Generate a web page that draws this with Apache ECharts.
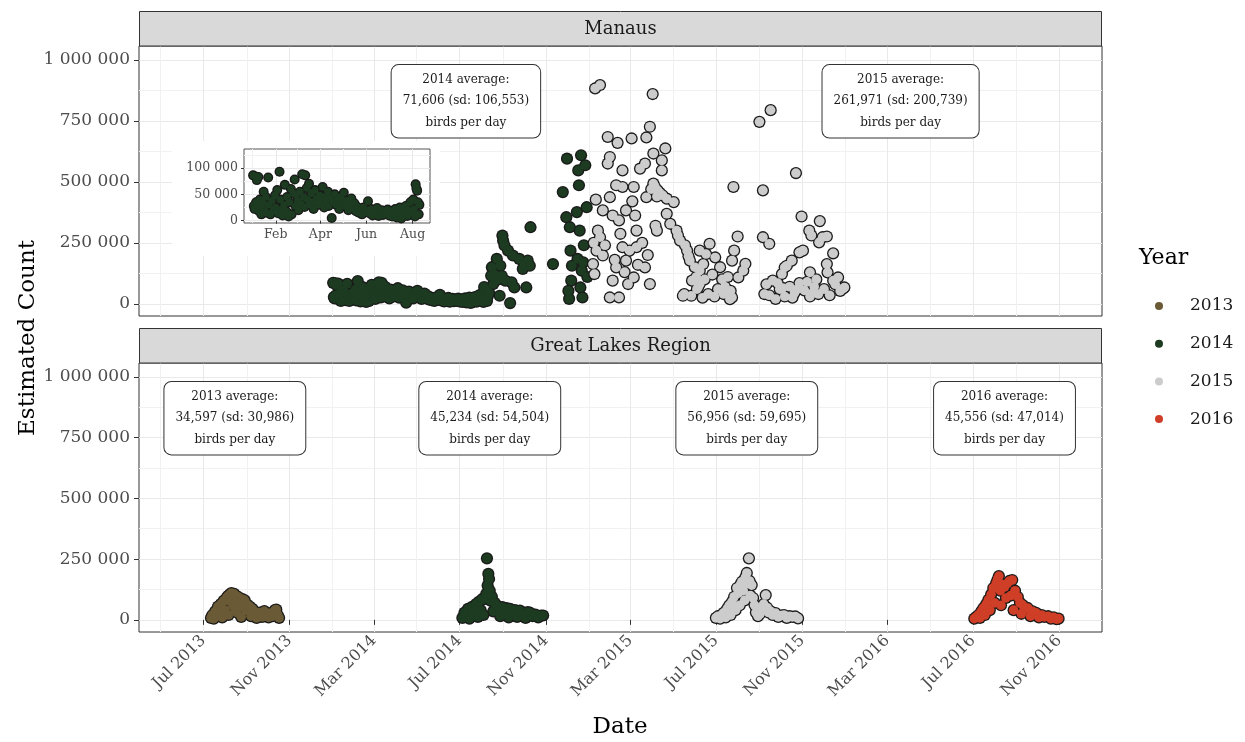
<!DOCTYPE html>
<html><head><meta charset="utf-8">
<script src="https://cdn.jsdelivr.net/npm/echarts@6/dist/echarts.min.js"></script>
<style>html,body{margin:0;padding:0;background:#fff}#c{width:1245px;height:742px}</style>
</head><body><div id="c"></div>
<script>
// ---------------- DATA ----------------
const years = ['2013', '2014', '2015', '2016'];
const panels = ['Manaus', 'Great Lakes Region'];

const xTickDates = ['2013-07-01','2013-11-01','2014-03-01','2014-07-01','2014-11-01','2015-03-01','2015-07-01','2015-11-01','2016-03-01','2016-07-01','2016-11-01'];
const xTickLabels = ['Jul 2013','Nov 2013','Mar 2014','Jul 2014','Nov 2014','Mar 2015','Jul 2015','Nov 2015','Mar 2016','Jul 2016','Nov 2016'];
const xMinorDates = ['2013-05-01','2013-09-01','2014-01-01','2014-05-01','2014-09-01','2015-01-01','2015-05-01','2015-09-01','2016-01-01','2016-05-01','2016-09-01'];
const yTickValues = [0, 250000, 500000, 750000, 1000000];
const yTickLabels = ['0', '250 000', '500 000', '750 000', '1 000 000'];
const yMinorValues = [125000, 375000, 625000, 875000];

const insetXTickDates = ['2014-02-01','2014-04-01','2014-06-01','2014-08-01'];
const insetXTickLabels = ['Feb','Apr','Jun','Aug'];
const insetXMinorDates = ['2014-01-01','2014-03-01','2014-05-01','2014-07-01'];
const insetYTickValues = [0, 50000, 100000];
const insetYTickLabels = ['0', '50 000', '100 000'];
const insetYMinorValues = [25000, 75000, 125000];
const insetEndDate = '2014-08-10';

// Manaus, season 2014
const manaus2014 = [
['2014-01-02',86000],['2014-01-03',28000],['2014-01-04',22000],['2014-01-05',84000],['2014-01-06',35000],['2014-01-07',77000],
['2014-01-08',30000],['2014-01-09',83000],['2014-01-10',18000],['2014-01-11',40000],['2014-01-12',25000],['2014-01-13',12000],
['2014-01-15',33000],['2014-01-16',55000],['2014-01-17',20000],['2014-01-19',45000],['2014-01-20',15000],['2014-01-22',82000],
['2014-01-23',30000],['2014-01-25',12000],['2014-01-27',38000],['2014-01-29',20000],['2014-01-31',48000],
['2014-02-01',25000],['2014-02-03',58000],['2014-02-04',14000],['2014-02-06',93000],['2014-02-07',40000],['2014-02-09',22000],
['2014-02-10',10000],['2014-02-12',30000],['2014-02-13',68000],['2014-02-15',18000],['2014-02-16',45000],['2014-02-18',8000],
['2014-02-19',35000],['2014-02-21',60000],['2014-02-22',12000],['2014-02-24',52000],['2014-02-26',78000],['2014-02-27',28000],
['2014-02-28',49000],
['2014-03-02',38000],['2014-03-03',20000],['2014-03-05',55000],['2014-03-06',32000],['2014-03-08',88000],['2014-03-10',45000],
['2014-03-11',26000],['2014-03-12',86000],['2014-03-14',62000],['2014-03-15',40000],['2014-03-17',70000],['2014-03-18',30000],
['2014-03-20',52000],['2014-03-22',36000],['2014-03-23',22000],['2014-03-25',58000],['2014-03-27',42000],['2014-03-29',30000],
['2014-03-31',48000],
['2014-04-02',35000],['2014-04-04',64000],['2014-04-06',25000],['2014-04-07',45000],['2014-04-09',38000],['2014-04-11',55000],
['2014-04-12',28000],['2014-04-14',42000],['2014-04-16',5000],['2014-04-18',35000],['2014-04-20',50000],['2014-04-22',30000],
['2014-04-24',40000],['2014-04-26',22000],['2014-04-28',45000],['2014-04-30',32000],
['2014-05-02',53000],['2014-05-04',28000],['2014-05-06',38000],['2014-05-08',20000],['2014-05-10',30000],['2014-05-12',42000],
['2014-05-14',24000],['2014-05-16',33000],['2014-05-18',18000],['2014-05-20',26000],['2014-05-22',15000],['2014-05-24',22000],
['2014-05-26',12000],['2014-05-28',25000],['2014-05-30',16000],
['2014-06-01',20000],['2014-06-03',37000],['2014-06-05',14000],['2014-06-07',22000],['2014-06-09',10000],['2014-06-11',18000],
['2014-06-13',12000],['2014-06-15',24000],['2014-06-17',9000],['2014-06-19',16000],['2014-06-21',20000],['2014-06-23',11000],
['2014-06-25',17000],['2014-06-27',13000],['2014-06-29',21000],
['2014-07-01',10000],['2014-07-03',18000],['2014-07-05',8000],['2014-07-07',15000],['2014-07-09',22000],['2014-07-11',6000],
['2014-07-13',14000],['2014-07-15',25000],['2014-07-17',4000],['2014-07-19',18000],['2014-07-21',12000],['2014-07-23',28000],
['2014-07-25',9000],['2014-07-27',20000],['2014-07-29',35000],['2014-07-31',15000],
['2014-08-02',40000],['2014-08-03',22000],['2014-08-04',8000],['2014-08-05',69000],['2014-08-06',61000],['2014-08-07',57000],
['2014-08-08',35000],['2014-08-09',12000],['2014-08-10',30000],
['2014-08-12',45000],['2014-08-15',115000],['2014-08-16',150000],['2014-08-18',81000],['2014-08-20',120000],['2014-08-23',184000],
['2014-08-25',100000],['2014-08-27',33000],['2014-08-28',156000],['2014-08-30',115000],['2014-08-31',280000],['2014-09-01',259000],
['2014-09-03',239000],['2014-09-04',95000],['2014-09-08',218000],['2014-09-11',3000],['2014-09-13',88000],['2014-09-15',198000],
['2014-09-17',67000],['2014-09-24',184000],['2014-09-29',143000],['2014-10-01',163000],['2014-10-04',67000],['2014-10-06',177000],
['2014-10-09',156000],['2014-10-10',314000],['2014-11-11',163000],['2014-11-25',458000],['2014-11-30',355000],['2014-12-01',595000],
['2014-12-03',53000],['2014-12-04',20000],['2014-12-05',314000],['2014-12-06',218000],['2014-12-07',95000],['2014-12-08',156000],
['2014-12-15',376000],['2014-12-16',184000],['2014-12-17',547000],['2014-12-18',486000],['2014-12-19',300000],['2014-12-20',67000],
['2014-12-21',609000],['2014-12-22',136000],['2014-12-23',26000],['2014-12-24',170000],['2014-12-25',240000],['2014-12-27',568000],
['2014-12-29',396000],['2014-12-30',110000]
];

// Manaus, season 2015
const manaus2015 = [
['2015-01-07',163000],['2015-01-08',250000],['2015-01-09',122000],['2015-01-10',883000],['2015-01-11',427000],['2015-01-12',218000],
['2015-01-14',300000],['2015-01-17',897000],['2015-01-17',273000],['2015-01-21',383000],['2015-01-21',198000],['2015-01-24',240000],
['2015-01-28',684000],['2015-01-28',575000],['2015-01-31',602000],['2015-01-31',437000],['2015-01-31',26000],['2015-02-04',362000],
['2015-02-04',95000],['2015-02-07',180000],['2015-02-09',486000],['2015-02-09',149000],['2015-02-11',660000],['2015-02-13',342000],
['2015-02-13',26000],['2015-02-15',287000],['2015-02-18',547000],['2015-02-18',479000],['2015-02-18',232000],['2015-02-21',130000],
['2015-02-23',383000],['2015-02-23',177000],['2015-02-26',81000],['2015-02-28',218000],['2015-03-03',678000],['2015-03-04',420000],
['2015-03-06',479000],['2015-03-06',108000],['2015-03-08',362000],['2015-03-10',300000],['2015-03-10',232000],['2015-03-12',160000],
['2015-03-15',554000],['2015-03-18',250000],['2015-03-22',575000],['2015-03-22',149000],['2015-03-24',682000],['2015-03-24',437000],
['2015-03-26',200000],['2015-03-29',726000],['2015-03-29',81000],['2015-03-31',470000],['2015-04-02',860000],['2015-04-03',616000],
['2015-04-03',493000],['2015-04-05',480000],['2015-04-06',320000],['2015-04-08',440000],['2015-04-08',300000],['2015-04-09',465000],
['2015-04-12',455000],['2015-04-15',588000],['2015-04-15',547000],['2015-04-16',445000],['2015-04-20',637000],['2015-04-22',431000],
['2015-04-22',369000],['2015-04-27',328000],['2015-05-02',417000],['2015-05-06',300000],['2015-05-08',280000],['2015-05-11',259000],
['2015-05-15',33000],['2015-05-17',40000],['2015-05-18',240000],['2015-05-21',218000],['2015-05-23',195000],['2015-05-25',177000],
['2015-05-27',33000],['2015-05-28',95000],['2015-06-01',150000],['2015-06-03',110000],['2015-06-04',60000],['2015-06-06',70000],
['2015-06-08',136000],['2015-06-08',81000],['2015-06-08',218000],['2015-06-12',25000],['2015-06-13',163000],['2015-06-15',100000],
['2015-06-17',204000],['2015-06-20',40000],['2015-06-22',246000],['2015-06-26',120000],['2015-06-29',30000],['2015-06-30',190000],
['2015-07-04',60000],['2015-07-07',150000],['2015-07-10',100000],['2015-07-12',40000],['2015-07-14',70000],['2015-07-18',110000],
['2015-07-21',19000],['2015-07-22',53000],['2015-07-24',26000],['2015-07-24',177000],['2015-07-26',479000],['2015-07-27',218000],
['2015-08-01',276000],['2015-08-02',108000],['2015-08-09',136000],['2015-08-12',164000],['2015-09-01',746000],['2015-09-06',465000],
['2015-09-06',273000],['2015-09-08',40000],['2015-09-11',80000],['2015-09-15',246000],['2015-09-15',35000],['2015-09-17',794000],
['2015-09-20',95000],['2015-09-24',20000],['2015-09-27',85000],['2015-09-30',60000],['2015-10-03',122000],['2015-10-04',65000],
['2015-10-07',30000],['2015-10-07',149000],['2015-10-10',156000],['2015-10-14',70000],['2015-10-17',177000],['2015-10-18',25000],
['2015-10-21',45000],['2015-10-23',536000],['2015-10-25',60000],['2015-10-28',211000],['2015-10-28',85000],['2015-10-31',358000],
['2015-11-02',218000],['2015-11-04',55000],['2015-11-08',90000],['2015-11-11',300000],['2015-11-12',129000],['2015-11-12',30000],
['2015-11-14',280000],['2015-11-16',45000],['2015-11-18',70000],['2015-11-21',100000],['2015-11-24',40000],['2015-11-25',252000],
['2015-11-26',339000],['2015-11-30',273000],['2015-12-02',60000],['2015-12-06',276000],['2015-12-06',163000],['2015-12-07',129000],
['2015-12-10',35000],['2015-12-15',207000],['2015-12-15',95000],['2015-12-18',80000],['2015-12-22',108000],['2015-12-25',53000],
['2015-12-29',62000],['2015-12-31',67000]
];

// Great Lakes Region
const lakes2013 = [
['2013-07-12',8000],['2013-07-14',20000],['2013-07-16',5000],['2013-07-18',35000],['2013-07-20',15000],['2013-07-22',55000],
['2013-07-24',25000],['2013-07-26',65000],['2013-07-28',10000],['2013-07-30',78000],['2013-08-01',40000],['2013-08-03',90000],
['2013-08-05',98000],['2013-08-06',20000],['2013-08-08',105000],['2013-08-09',75000],['2013-08-10',110000],['2013-08-11',88000],
['2013-08-12',60000],['2013-08-13',82000],['2013-08-14',107000],['2013-08-15',45000],
['2013-08-16',100000],['2013-08-17',70000],['2013-08-18',30000],['2013-08-20',94000],['2013-08-21',55000],['2013-08-22',75000],['2013-08-24',12000],['2013-08-26',85000],
['2013-08-29',80000],['2013-08-31',40000],['2013-09-02',62000],['2013-09-05',55000],['2013-09-07',15000],['2013-09-09',45000],
['2013-09-12',35000],['2013-09-15',8000],['2013-09-17',28000],['2013-09-20',30000],['2013-09-23',12000],['2013-09-26',36000],
['2013-09-29',20000],['2013-10-02',10000],['2013-10-05',28000],['2013-10-08',15000],['2013-10-11',40000],['2013-10-13',42000],
['2013-10-15',20000],['2013-10-17',8000]
];
const lakes2014 = [
['2014-07-05',8000],['2014-07-08',30000],['2014-07-10',15000],['2014-07-13',45000],['2014-07-15',5000],['2014-07-18',52000],
['2014-07-20',25000],['2014-07-23',60000],['2014-07-25',66000],['2014-07-27',12000],['2014-07-29',75000],['2014-07-31',40000],
['2014-08-02',85000],['2014-08-04',20000],['2014-08-06',86000],['2014-08-08',107000],['2014-08-09',253000],['2014-08-10',141000],
['2014-08-11',189000],['2014-08-12',168000],['2014-08-13',120000],['2014-08-14',79000],['2014-08-16',95000],['2014-08-18',35000],
['2014-08-20',70000],['2014-08-23',59000],['2014-08-26',50000],['2014-08-28',15000],['2014-08-31',52000],['2014-09-03',40000],
['2014-09-06',48000],['2014-09-09',10000],['2014-09-11',45000],['2014-09-15',30000],['2014-09-18',40000],['2014-09-21',12000],
['2014-09-25',38000],['2014-09-29',25000],['2014-10-03',8000],['2014-10-06',32000],['2014-10-09',30000],['2014-10-13',15000],
['2014-10-17',22000],['2014-10-21',10000],['2014-10-25',18000],['2014-10-28',18000]
];
const lakes2015 = [
['2015-07-01',8000],['2015-07-04',15000],['2015-07-07',5000],['2015-07-10',22000],['2015-07-12',29000],['2015-07-15',10000],
['2015-07-17',45000],['2015-07-20',60000],['2015-07-22',20000],['2015-07-24',74000],['2015-07-27',95000],['2015-07-29',40000],
['2015-07-31',131000],['2015-08-02',110000],['2015-08-04',60000],['2015-08-05',145000],['2015-08-07',157000],['2015-08-09',120000],
['2015-08-11',80000],['2015-08-12',175000],['2015-08-14',193000],['2015-08-15',150000],['2015-08-17',253000],['2015-08-18',160000],
['2015-08-19',100000],['2015-08-21',143000],['2015-08-23',90000],['2015-08-25',61000],['2015-08-27',30000],['2015-08-30',15000],
['2015-09-02',25000],['2015-09-05',45000],['2015-09-07',65000],['2015-09-10',102000],['2015-09-12',50000],['2015-09-14',30000],
['2015-09-17',35000],['2015-09-20',20000],['2015-09-24',28000],['2015-09-28',12000],['2015-10-02',18000],['2015-10-06',20000],
['2015-10-10',8000],['2015-10-14',15000],['2015-10-18',12000],['2015-10-22',14000],['2015-10-26',6000]
];
const lakes2016 = [
['2016-07-03',5000],['2016-07-06',12000],['2016-07-09',20000],['2016-07-11',8000],['2016-07-13',35000],['2016-07-16',49000],
['2016-07-18',20000],['2016-07-20',65000],['2016-07-23',82000],['2016-07-25',40000],['2016-07-27',105000],['2016-07-30',131000],
['2016-08-01',70000],['2016-08-03',150000],['2016-08-05',165000],['2016-08-07',180000],['2016-08-09',120000],['2016-08-10',60000],
['2016-08-12',145000],['2016-08-15',135000],['2016-08-17',90000],['2016-08-19',150000],['2016-08-22',160000],['2016-08-24',100000],
['2016-08-26',164000],['2016-08-28',40000],['2016-08-30',120000],['2016-09-03',94000],['2016-09-06',70000],['2016-09-08',25000],
['2016-09-10',61000],['2016-09-14',45000],['2016-09-17',49000],['2016-09-21',15000],['2016-09-24',35000],['2016-09-29',29000],
['2016-10-03',10000],['2016-10-07',20000],['2016-10-11',12000],['2016-10-16',15000],['2016-10-20',5000],['2016-10-24',10000],
['2016-10-28',3000],['2016-10-31',5000]
];

// Summary labels (panel, anchor date, anchor count, text lines)
const annotationPanels = ['Manaus','Manaus','Great Lakes Region','Great Lakes Region','Great Lakes Region','Great Lakes Region'];
const annotationDates = ['2014-07-10','2016-03-20','2013-08-15','2014-08-13','2015-08-14','2016-08-15'];
const annotationCounts = [830000, 830000, 830000, 830000, 830000, 830000];
const annotationTexts = [
  ['2014 average:', '71,606 (sd: 106,553)', 'birds per day'],
  ['2015 average:', '261,971 (sd: 200,739)', 'birds per day'],
  ['2013 average:', '34,597 (sd: 30,986)', 'birds per day'],
  ['2014 average:', '45,234 (sd: 54,504)', 'birds per day'],
  ['2015 average:', '56,956 (sd: 59,695)', 'birds per day'],
  ['2016 average:', '45,556 (sd: 47,014)', 'birds per day']
];

// ---------------- STYLE / LAYOUT ----------------
const yearColor = {'2013':'#6b5a36','2014':'#1c3b21','2015':'#cccccc','2016':'#cf3e26'};
const outlineColor = '#1a1a1a';
const FONT = '"DejaVu Serif", serif';
const xRange = ['2013-03-31T12:00:00Z', '2016-12-31T20:00:00Z'];
const yRange = [-50000, 1057000];
const insetXRange = ['2013-12-21', '2014-08-24'];
const insetYRange = [-4400, 136000];

const ts = s => Date.parse(s);
const pts = arr => arr.map(d => [ts(d[0]), d[1]]);
const mapOf = (keys, labels) => { const m = {}; keys.forEach((k, i) => { m[k] = labels[i]; }); return m; };
const xLabelMap = mapOf(xTickDates.map(ts), xTickLabels);
const yLabelMap = mapOf(yTickValues, yTickLabels);
const insetXLabelMap = mapOf(insetXTickDates.map(ts), insetXTickLabels);
const insetYLabelMap = mapOf(insetYTickValues, insetYTickLabels);

const gridLine = '#e9e9e9';
const minorLine = '#f1f1f1';
const labelColor = '#4d4d4d';

function majorX(gridIndex, showLabels) {
  return {
    type: 'value', gridIndex, position: 'bottom', min: ts(xRange[0]), max: ts(xRange[1]),
    axisLine: { show: false },
    axisTick: { show: showLabels, customValues: xTickDates.map(ts), length: 5, lineStyle: { color: '#333' } },
    axisLabel: { show: showLabels, customValues: xTickDates.map(ts), rotate: 45, margin: 6,
      formatter: v => xLabelMap[v] || '', fontFamily: FONT, fontSize: 16, color: labelColor },
    splitLine: { show: true, lineStyle: { color: gridLine, width: 1 } }
  };
}
function minorX(gridIndex) {
  return {
    type: 'value', gridIndex, position: 'top', min: ts(xRange[0]), max: ts(xRange[1]),
    axisLine: { show: false }, axisLabel: { show: false },
    axisTick: { show: false, customValues: xMinorDates.map(ts) },
    splitLine: { show: true, lineStyle: { color: minorLine, width: 1 } }
  };
}
function majorY(gridIndex) {
  return {
    type: 'value', gridIndex, position: 'left', min: yRange[0], max: yRange[1],
    axisLine: { show: false },
    axisTick: { show: true, customValues: yTickValues, length: 5, lineStyle: { color: '#333' } },
    axisLabel: { show: true, customValues: yTickValues, margin: 9,
      formatter: v => yLabelMap[v] || '', fontFamily: FONT, fontSize: 17, color: labelColor },
    splitLine: { show: true, lineStyle: { color: gridLine, width: 1 } }
  };
}
function minorY(gridIndex) {
  return {
    type: 'value', gridIndex, position: 'right', min: yRange[0], max: yRange[1],
    axisLine: { show: false }, axisLabel: { show: false },
    axisTick: { show: false, customValues: yMinorValues },
    splitLine: { show: true, lineStyle: { color: minorLine, width: 1 } }
  };
}

const xAxes = [majorX(0, false), minorX(0), majorX(1, true), minorX(1),
  { type: 'value', gridIndex: 2, position: 'bottom', z: 3, min: ts(insetXRange[0]), max: ts(insetXRange[1]),
    axisLine: { show: false },
    axisTick: { show: true, customValues: insetXTickDates.map(ts), length: 3, lineStyle: { color: '#333' } },
    axisLabel: { show: true, customValues: insetXTickDates.map(ts), margin: 5,
      formatter: v => insetXLabelMap[v] || '', fontFamily: FONT, fontSize: 12.5, color: labelColor },
    splitLine: { show: true, lineStyle: { color: gridLine, width: 1 } } },
  { type: 'value', gridIndex: 2, position: 'top', z: 3, min: ts(insetXRange[0]), max: ts(insetXRange[1]),
    axisLine: { show: false }, axisLabel: { show: false },
    axisTick: { show: false, customValues: insetXMinorDates.map(ts) },
    splitLine: { show: true, lineStyle: { color: minorLine, width: 1 } } }
];
const yAxes = [majorY(0), minorY(0), majorY(1), minorY(1),
  { type: 'value', gridIndex: 2, position: 'left', z: 3, min: insetYRange[0], max: insetYRange[1],
    axisLine: { show: false },
    axisTick: { show: true, customValues: insetYTickValues, length: 3, lineStyle: { color: '#333' } },
    axisLabel: { show: true, customValues: insetYTickValues, margin: 6,
      formatter: v => insetYLabelMap[v] || '', fontFamily: FONT, fontSize: 12.5, color: labelColor },
    splitLine: { show: true, lineStyle: { color: gridLine, width: 1 } } },
  { type: 'value', gridIndex: 2, position: 'right', z: 3, min: insetYRange[0], max: insetYRange[1],
    axisLine: { show: false }, axisLabel: { show: false },
    axisTick: { show: false, customValues: insetYMinorValues },
    splitLine: { show: true, lineStyle: { color: minorLine, width: 1 } } }
];

// Each year is drawn as a dark underlay (outline) followed by the coloured points.
function pointLayers(name, data, axisIndex, size, z) {
  const common = { type: 'scatter', xAxisIndex: axisIndex, yAxisIndex: axisIndex, data: pts(data),
    symbol: 'circle', silent: true, z: z || 2, emphasis: { disabled: true } };
  return [
    Object.assign({}, common, { name: name + ' outline', symbolSize: size + 2.6,
      itemStyle: { color: outlineColor, borderWidth: 0, opacity: 1 } }),
    Object.assign({}, common, { name, symbolSize: size,
      itemStyle: { color: yearColor[name], borderWidth: 0, opacity: 1 } })
  ];
}

const series = [].concat(
  pointLayers('2014', manaus2014, 0, 9.6),
  pointLayers('2015', manaus2015, 0, 9.6),
  pointLayers('2013', lakes2013, 2, 9.6),
  pointLayers('2014', lakes2014, 2, 9.6),
  pointLayers('2015', lakes2015, 2, 9.6),
  pointLayers('2016', lakes2016, 2, 9.6),
  pointLayers('2014', manaus2014.filter(d => d[0] <= insetEndDate), 4, 7.4, 4)
);
panels.forEach((p, pi) => {
  const data = [];
  annotationPanels.forEach((ap, i) => {
    if (ap === p) data.push({ name: annotationTexts[i].join('\n'), value: [ts(annotationDates[i]), annotationCounts[i]] });
  });
  series.push({
    type: 'scatter', name: 'annotation-' + pi, xAxisIndex: pi * 2, yAxisIndex: pi * 2, data,
    symbolSize: 1, itemStyle: { color: 'rgba(0,0,0,0)', opacity: 1 }, silent: true, z: 10,
    label: { show: true, position: 'inside', formatter: '{b}', fontFamily: FONT, fontSize: 12,
      lineHeight: 21.5, color: '#1a1a1a', opacity: 1, align: 'center', verticalAlign: 'middle',
      backgroundColor: '#fff', borderColor: '#333', borderWidth: 1, borderRadius: 7, padding: [4, 11, 4, 11] },
    emphasis: { disabled: true }
  });
});

const option = {
  animation: false,
  backgroundColor: '#fff',
  grid: [
    { left: 139, top: 46, width: 963, height: 270, show: true, backgroundColor: '#fff', borderColor: '#333', borderWidth: 1, z: 0 },
    { left: 139, top: 363, width: 963, height: 269, show: true, backgroundColor: '#fff', borderColor: '#333', borderWidth: 1, z: 0 },
    { left: 244, top: 149, width: 186, height: 74, show: true, backgroundColor: '#fff', borderColor: '#555', borderWidth: 1, z: 3 }
  ],
  xAxis: xAxes,
  yAxis: yAxes,
  legend: {
    data: years, orient: 'vertical', left: 1150, top: 291, icon: 'circle',
    itemWidth: 8, itemHeight: 8, itemGap: 17.7, selectedMode: false,
    itemStyle: { borderWidth: 0, opacity: 1 },
    textStyle: { fontFamily: FONT, fontSize: 17, color: '#1a1a1a', lineHeight: 20, padding: [0, 0, 0, 22] }
  },
  graphic: [
    { type: 'rect', z: 1, silent: true, shape: { x: 172, y: 141, width: 268, height: 115 }, style: { fill: '#fff' } },
    { type: 'rect', z: 1, silent: true, shape: { x: 139.5, y: 11.5, width: 962, height: 34.5 }, style: { fill: '#d9d9d9', stroke: '#333', lineWidth: 1 } },
    { type: 'text', z: 2, silent: true, x: 620.5, y: 29, style: { text: panels[0], font: '18px ' + FONT, fill: '#1a1a1a', textAlign: 'center', textVerticalAlign: 'middle' } },
    { type: 'rect', z: 1, silent: true, shape: { x: 139.5, y: 328.5, width: 962, height: 34.5 }, style: { fill: '#d9d9d9', stroke: '#333', lineWidth: 1 } },
    { type: 'text', z: 2, silent: true, x: 620.5, y: 346, style: { text: panels[1], font: '18px ' + FONT, fill: '#1a1a1a', textAlign: 'center', textVerticalAlign: 'middle' } },
    { type: 'text', z: 2, silent: true, x: 28, y: 338, rotation: Math.PI / 2, style: { text: 'Estimated Count', font: '23px ' + FONT, fill: '#000', textAlign: 'center', textVerticalAlign: 'middle' } },
    { type: 'text', z: 2, silent: true, x: 620, y: 727, style: { text: 'Date', font: '23px ' + FONT, fill: '#000', textAlign: 'center', textVerticalAlign: 'middle' } },
    { type: 'text', z: 2, silent: true, x: 1139, y: 258, style: { text: 'Year', font: '22px ' + FONT, fill: '#000', textAlign: 'left', textVerticalAlign: 'middle' } }
  ],
  series
};

const chart = echarts.init(document.getElementById('c'), null, { renderer: 'canvas' });
chart.setOption(option);
</script>
</body></html>
